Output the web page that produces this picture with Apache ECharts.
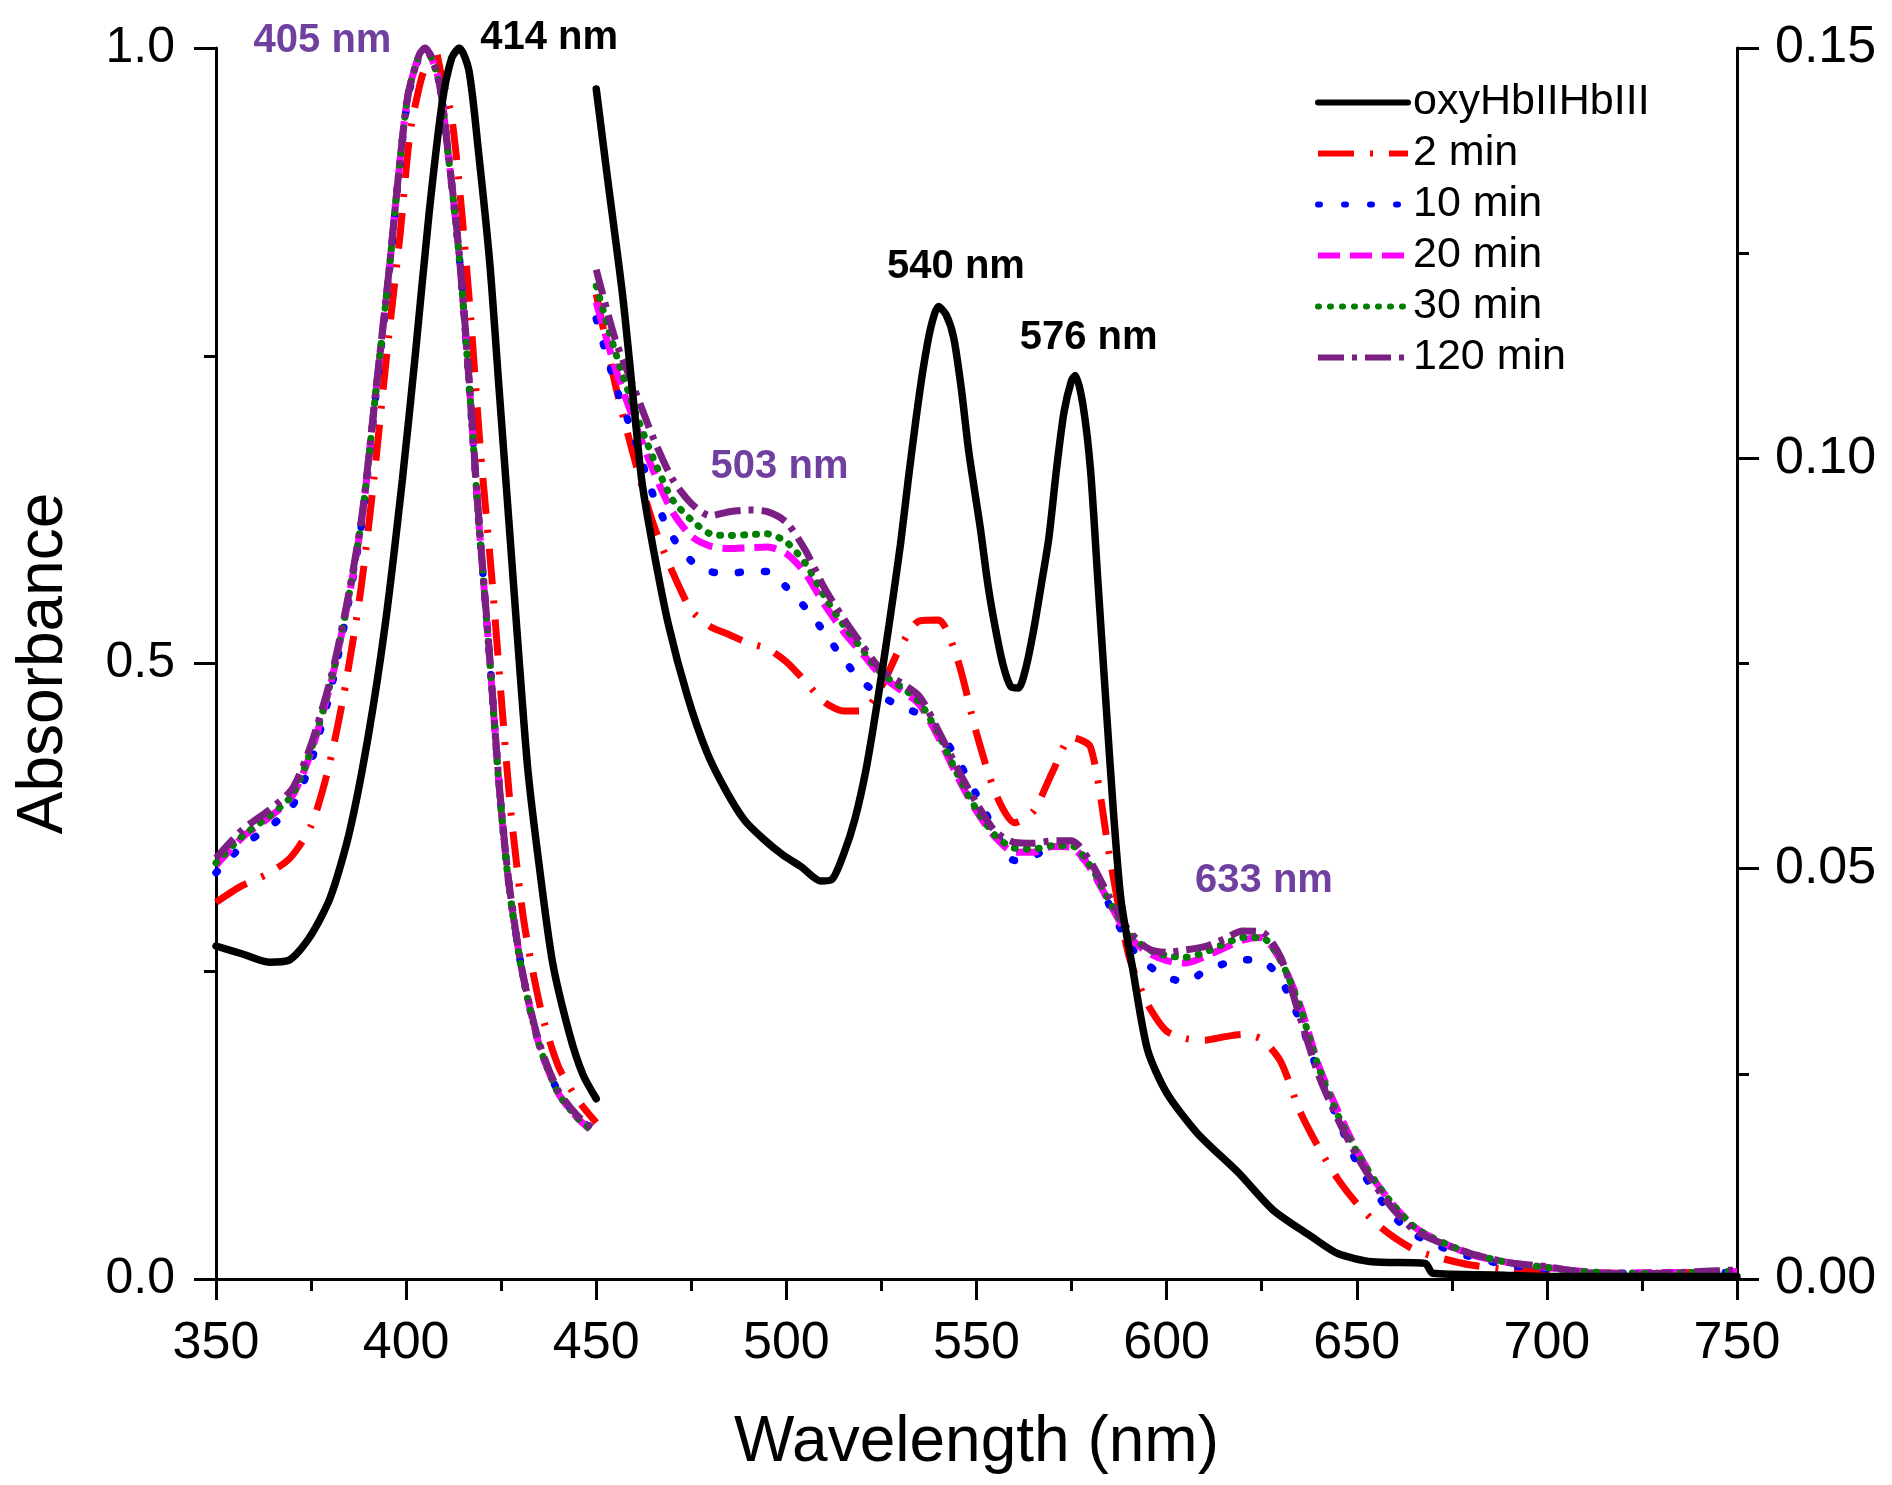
<!DOCTYPE html>
<html><head><meta charset="utf-8">
<script src="https://cdn.jsdelivr.net/npm/echarts@6/dist/echarts.min.js"></script>
<style>html,body{margin:0;padding:0;background:#fff}#c{width:1892px;height:1485px}</style>
</head><body><div id="c"></div>
<script>
// ---------- Data ----------
const seriesNames = ['oxyHbIIHbIII', '2 min', '10 min', '20 min', '30 min', '120 min'];

// Soret region (350-450 nm), left axis
const oxySoretWl = [350, 357, 364, 369, 374.5, 380, 385, 390, 394.5, 399, 402.5, 406, 409.5, 412, 414, 416.5, 419, 422, 424.5, 427, 429.5, 432, 435, 438.5, 443, 446.5, 450];
const oxySoret = [0.2705, 0.264, 0.2574, 0.2587, 0.277, 0.3095, 0.3618, 0.4403, 0.5316, 0.649, 0.7535, 0.8645, 0.9559, 0.9919, 1.0, 0.982, 0.9167, 0.8253, 0.7209, 0.6166, 0.512, 0.4141, 0.3357, 0.2574, 0.1986, 0.166, 0.1464];

const redSoretWl = [350, 356.5, 363.5, 369.5, 375, 379.5, 383.5, 388, 391.5, 395, 398.5, 401, 404, 406.5, 407.5, 409, 412, 414.5, 417, 419.5, 422.5, 425, 427.5, 431, 435.5, 440, 445, 450];
const min2Soret = [0.306, 0.319, 0.329, 0.342, 0.368, 0.414, 0.473, 0.558, 0.649, 0.754, 0.851, 0.93, 0.975, 0.995, 1.0, 0.982, 0.943, 0.871, 0.78, 0.675, 0.571, 0.473, 0.381, 0.29, 0.218, 0.173, 0.146, 0.127];

const timeSoretWl = [350, 357, 364, 370, 375, 380.5, 385, 388.5, 392, 395.5, 398, 400.5, 403.5, 405, 408.5, 411, 414, 416.5, 419, 422, 424.5, 427, 430.5, 435, 440, 445, 450];
const min10Soret = [0.33, 0.352, 0.367, 0.384, 0.42, 0.483, 0.552, 0.618, 0.717, 0.816, 0.895, 0.96, 0.994, 1.0, 0.975, 0.916, 0.83, 0.73, 0.62, 0.503, 0.4, 0.322, 0.25, 0.19, 0.152, 0.132, 0.118];
const min20Soret = [0.336, 0.359, 0.375, 0.392, 0.428, 0.488, 0.555, 0.62, 0.719, 0.818, 0.897, 0.962, 0.995, 1.0, 0.975, 0.916, 0.83, 0.731, 0.62, 0.503, 0.399, 0.321, 0.25, 0.19, 0.151, 0.131, 0.117];
const min30Soret = [0.338, 0.36, 0.376, 0.393, 0.43, 0.489, 0.556, 0.621, 0.72, 0.818, 0.897, 0.962, 0.995, 1.0, 0.974, 0.915, 0.829, 0.73, 0.619, 0.502, 0.398, 0.32, 0.249, 0.19, 0.151, 0.131, 0.118];
const min120Soret = [0.342, 0.365, 0.381, 0.398, 0.434, 0.492, 0.558, 0.623, 0.721, 0.819, 0.897, 0.962, 0.995, 1.0, 0.975, 0.917, 0.832, 0.734, 0.623, 0.505, 0.401, 0.323, 0.251, 0.192, 0.153, 0.133, 0.120];

// Visible region (450-750 nm), right axis
const oxyVisWl = [450, 453, 457, 460, 462, 465, 469, 474, 479, 484, 489, 494, 499, 504, 509, 512, 515, 518, 521, 524, 527, 530, 532, 534, 536, 538, 540, 542, 544, 546, 548, 551, 553, 555, 557, 559, 561, 563, 565, 567, 569, 571, 573, 575, 576, 578, 580, 582, 584, 586, 588, 591, 595, 600, 608, 619, 628, 638, 645, 654, 668, 670, 687, 700, 750];
const oxyVis = [0.145, 0.134, 0.1196, 0.106, 0.0972, 0.089, 0.0797, 0.071, 0.0643, 0.0596, 0.0559, 0.0536, 0.0517, 0.0502, 0.0485, 0.0487, 0.0517, 0.056, 0.0622, 0.0705, 0.0797, 0.0895, 0.0972, 0.1045, 0.111, 0.116, 0.1185, 0.1175, 0.1147, 0.1085, 0.1007, 0.0915, 0.0846, 0.0792, 0.0748, 0.0722, 0.072, 0.0745, 0.079, 0.0845, 0.0902, 0.0985, 0.1056, 0.1095, 0.1101, 0.1065, 0.0985, 0.0845, 0.0705, 0.057, 0.0462, 0.038, 0.0279, 0.0227, 0.0178, 0.0129, 0.0084, 0.0052, 0.0031, 0.0021, 0.0019, 0.0007, 0.0005, 0.0003, 0.0003];

const timeVisWl = [450, 455, 460, 465, 470, 475, 480, 485, 490, 495, 500, 505, 510, 515, 520, 525, 530, 535, 540, 545, 550, 555, 560, 565, 570, 575, 580, 585, 590, 595, 600, 605, 610, 615, 620, 625, 630, 635, 640, 645, 650, 655, 660, 665, 670, 680, 690, 700, 710, 720, 730, 740, 750];
const min2Vis = [0.12, 0.109, 0.1, 0.092, 0.0862, 0.0815, 0.0795, 0.0785, 0.0775, 0.0768, 0.0752, 0.0728, 0.0703, 0.0692, 0.0692, 0.0722, 0.077, 0.0802, 0.0803, 0.0755, 0.0665, 0.0592, 0.0556, 0.057, 0.0618, 0.066, 0.0648, 0.0515, 0.0395, 0.0335, 0.0302, 0.0293, 0.0291, 0.0295, 0.0298, 0.0292, 0.0265, 0.0205, 0.016, 0.0122, 0.0092, 0.0068, 0.005, 0.0036, 0.0028, 0.0017, 0.0012, 0.0009, 0.0007, 0.0007, 0.0007, 0.0008, 0.0007];
const min10Vis = [0.117, 0.109, 0.1025, 0.0955, 0.0905, 0.0875, 0.0862, 0.086, 0.0862, 0.0862, 0.0843, 0.0818, 0.0788, 0.0755, 0.0728, 0.071, 0.0698, 0.0688, 0.0668, 0.0633, 0.059, 0.0545, 0.051, 0.0515, 0.0528, 0.0525, 0.0502, 0.0455, 0.0408, 0.0383, 0.0368, 0.0362, 0.0375, 0.0384, 0.0389, 0.0388, 0.0365, 0.0315, 0.025, 0.0195, 0.0142, 0.0105, 0.0075, 0.0055, 0.0043, 0.0027, 0.0017, 0.0012, 0.0008, 0.0007, 0.0007, 0.0008, 0.0008];
const min20Vis = [0.119, 0.111, 0.1045, 0.0985, 0.0935, 0.0905, 0.0893, 0.089, 0.0891, 0.0892, 0.0884, 0.086, 0.0822, 0.0789, 0.0762, 0.0735, 0.0718, 0.07, 0.066, 0.0612, 0.057, 0.0538, 0.052, 0.052, 0.0527, 0.0526, 0.05, 0.0458, 0.0418, 0.0398, 0.0388, 0.0385, 0.0393, 0.0403, 0.0413, 0.0416, 0.0388, 0.0335, 0.026, 0.0205, 0.0157, 0.0118, 0.0088, 0.0064, 0.005, 0.003, 0.002, 0.0014, 0.0009, 0.0007, 0.0008, 0.0008, 0.0009];
const min30Vis = [0.121, 0.113, 0.106, 0.1, 0.095, 0.0925, 0.0908, 0.0906, 0.0907, 0.0908, 0.0898, 0.0872, 0.0832, 0.0797, 0.0767, 0.0738, 0.0722, 0.0703, 0.0664, 0.0615, 0.0572, 0.054, 0.0525, 0.0524, 0.0528, 0.0528, 0.0503, 0.046, 0.0422, 0.0402, 0.0394, 0.0392, 0.0398, 0.0408, 0.0416, 0.0416, 0.0388, 0.0332, 0.0258, 0.02, 0.0155, 0.0118, 0.0088, 0.0064, 0.005, 0.0031, 0.002, 0.0014, 0.0009, 0.0007, 0.0007, 0.0008, 0.0009];
const min120Vis = [0.123, 0.1145, 0.1085, 0.1025, 0.0975, 0.0945, 0.093, 0.0935, 0.0937, 0.0935, 0.0922, 0.0888, 0.0842, 0.0805, 0.0772, 0.0742, 0.0727, 0.071, 0.0668, 0.0622, 0.058, 0.0545, 0.0532, 0.0531, 0.0534, 0.0534, 0.0508, 0.0465, 0.0425, 0.0403, 0.0398, 0.0401, 0.0405, 0.0414, 0.0424, 0.0423, 0.0392, 0.032, 0.0248, 0.0195, 0.015, 0.0113, 0.0083, 0.006, 0.0048, 0.0031, 0.002, 0.0015, 0.0008, 0.0006, 0.0007, 0.0009, 0.0011];

// Axis ticks
const xTicks = {min: 350, max: 750, interval: 50};
const yLeftTicks = {min: 0, max: 1.0, interval: 0.5};
const yRightTicks = {min: 0, max: 0.15, interval: 0.05};

// Peak annotations
const annText = ['405 nm', '414 nm', '540 nm', '576 nm', '503 nm', '633 nm'];
const annWl = [378, 437.6, 544.6, 579.5, 498.2, 625.6];
const annVal = [1.006, 1.0085, 0.1233, 0.1147, 0.0989, 0.0485];
const annAxis = [0, 0, 1, 1, 1, 1];
const annIsPurple = [true, false, false, false, true, true];

// ---------- Chart ----------
const FONT = "'Liberation Sans', Arial, Helvetica, sans-serif";
const ANN_PURPLE = '#7040A0';
const styles = {
  'oxyHbIIHbIII': {color: '#000000', type: 'solid', width: 7.5, cap: 'round'},
  '2 min': {color: '#FF0000', type: [36, 16, 3, 16], width: 7, cap: 'butt'},
  '10 min': {color: '#0000FF', type: [2, 24], width: 7.5, cap: 'round'},
  '20 min': {color: '#FF00FF', type: [22, 10], width: 7, cap: 'butt'},
  '30 min': {color: '#007F00', type: [1, 11], width: 7, cap: 'round'},
  '120 min': {color: '#7B1F82', type: [26, 8, 5, 8], width: 7, cap: 'butt'}
};
const pairs = (xs, ys) => xs.map((x, i) => [x, ys[i]]);

function lineSeries(name, xs, ys, yAxisIndex, z) {
  const st = styles[name];
  return {
    name: name, type: 'line', yAxisIndex: yAxisIndex, data: pairs(xs, ys),
    symbol: 'none', showSymbol: false, smooth: 0.25, z: z,
    lineStyle: {color: st.color, width: st.width, type: st.type, cap: st.cap},
    itemStyle: {color: st.color},
    silent: true
  };
}

const series = [
  lineSeries('2 min', redSoretWl, min2Soret, 0, 2),
  lineSeries('10 min', timeSoretWl, min10Soret, 0, 3),
  lineSeries('20 min', timeSoretWl, min20Soret, 0, 4),
  lineSeries('30 min', timeSoretWl, min30Soret, 0, 5),
  lineSeries('120 min', timeSoretWl, min120Soret, 0, 6),
  lineSeries('oxyHbIIHbIII', oxySoretWl, oxySoret, 0, 7),
  lineSeries('2 min', timeVisWl, min2Vis, 1, 2),
  lineSeries('10 min', timeVisWl, min10Vis, 1, 3),
  lineSeries('20 min', timeVisWl, min20Vis, 1, 4),
  lineSeries('30 min', timeVisWl, min30Vis, 1, 5),
  lineSeries('120 min', timeVisWl, min120Vis, 1, 6),
  lineSeries('oxyHbIIHbIII', oxyVisWl, oxyVis, 1, 7)
];

[0, 1].forEach(ax => {
  const items = [];
  annText.forEach((t, i) => {
    if (annAxis[i] !== ax) return;
    items.push({
      value: [annWl[i], annVal[i]], name: t,
      label: {color: annIsPurple[i] ? ANN_PURPLE : '#000000'}
    });
  });
  series.push({
    name: 'annotations' + ax, type: 'scatter', yAxisIndex: ax, data: items,
    symbolSize: 0, clip: false, silent: true, z: 10,
    itemStyle: {opacity: 1},
    label: {show: true, position: 'inside', formatter: p => p.name, opacity: 1,
      fontFamily: FONT, fontSize: 40, fontWeight: 'bold', textBorderWidth: 0}
  });
});

const axisLineStyle = {color: '#000', width: 3};
const chart = echarts.init(document.getElementById('c'), null, {renderer: 'canvas'});
chart.setOption({
  animation: false,
  backgroundColor: '#ffffff',
  textStyle: {fontFamily: FONT},
  grid: {left: 216, right: 155, top: 48, bottom: 206, containLabel: false},
  legend: {
    data: seriesNames, orient: 'vertical', left: 1310, top: 76,
    itemWidth: 90, itemHeight: 14, itemGap: 8,
    selectedMode: false,
    itemStyle: {opacity: 0},
    lineStyle: {width: 6},
    textStyle: {fontFamily: FONT, fontSize: 43, lineHeight: 40, color: '#000'}
  },
  xAxis: {
    type: 'value', min: xTicks.min, max: xTicks.max, interval: xTicks.interval,
    name: 'Wavelength (nm)', nameLocation: 'middle', nameGap: 132,
    nameTextStyle: {fontFamily: FONT, fontSize: 64, color: '#000'},
    axisLine: {show: true, onZero: false, lineStyle: axisLineStyle},
    axisTick: {show: true, inside: false, length: 21, lineStyle: axisLineStyle},
    minorTick: {show: true, splitNumber: 2, length: 12, lineStyle: axisLineStyle},
    splitLine: {show: false}, minorSplitLine: {show: false},
    axisLabel: {fontFamily: FONT, fontSize: 52, color: '#000', margin: 39}
  },
  yAxis: [
    {
      type: 'value', position: 'left', min: yLeftTicks.min, max: yLeftTicks.max, interval: yLeftTicks.interval,
      name: 'Absorbance', nameLocation: 'middle', nameGap: 140,
      nameTextStyle: {fontFamily: FONT, fontSize: 64, color: '#000'},
      axisLine: {show: true, onZero: false, lineStyle: axisLineStyle},
      axisTick: {show: true, inside: false, length: 22, lineStyle: axisLineStyle},
      minorTick: {show: true, splitNumber: 2, length: 12, lineStyle: axisLineStyle},
      splitLine: {show: false},
      axisLabel: {fontFamily: FONT, fontSize: 50, color: '#000', margin: 41, formatter: v => v.toFixed(1)}
    },
    {
      type: 'value', position: 'right', min: yRightTicks.min, max: yRightTicks.max, interval: yRightTicks.interval,
      axisLine: {show: true, onZero: false, lineStyle: axisLineStyle},
      axisTick: {show: true, inside: false, length: 22, lineStyle: axisLineStyle},
      minorTick: {show: true, splitNumber: 2, length: 12, lineStyle: axisLineStyle},
      splitLine: {show: false},
      axisLabel: {fontFamily: FONT, fontSize: 52, color: '#000', margin: 38, formatter: v => v.toFixed(2)}
    }
  ],
  series: series
});
</script>
</body></html>
